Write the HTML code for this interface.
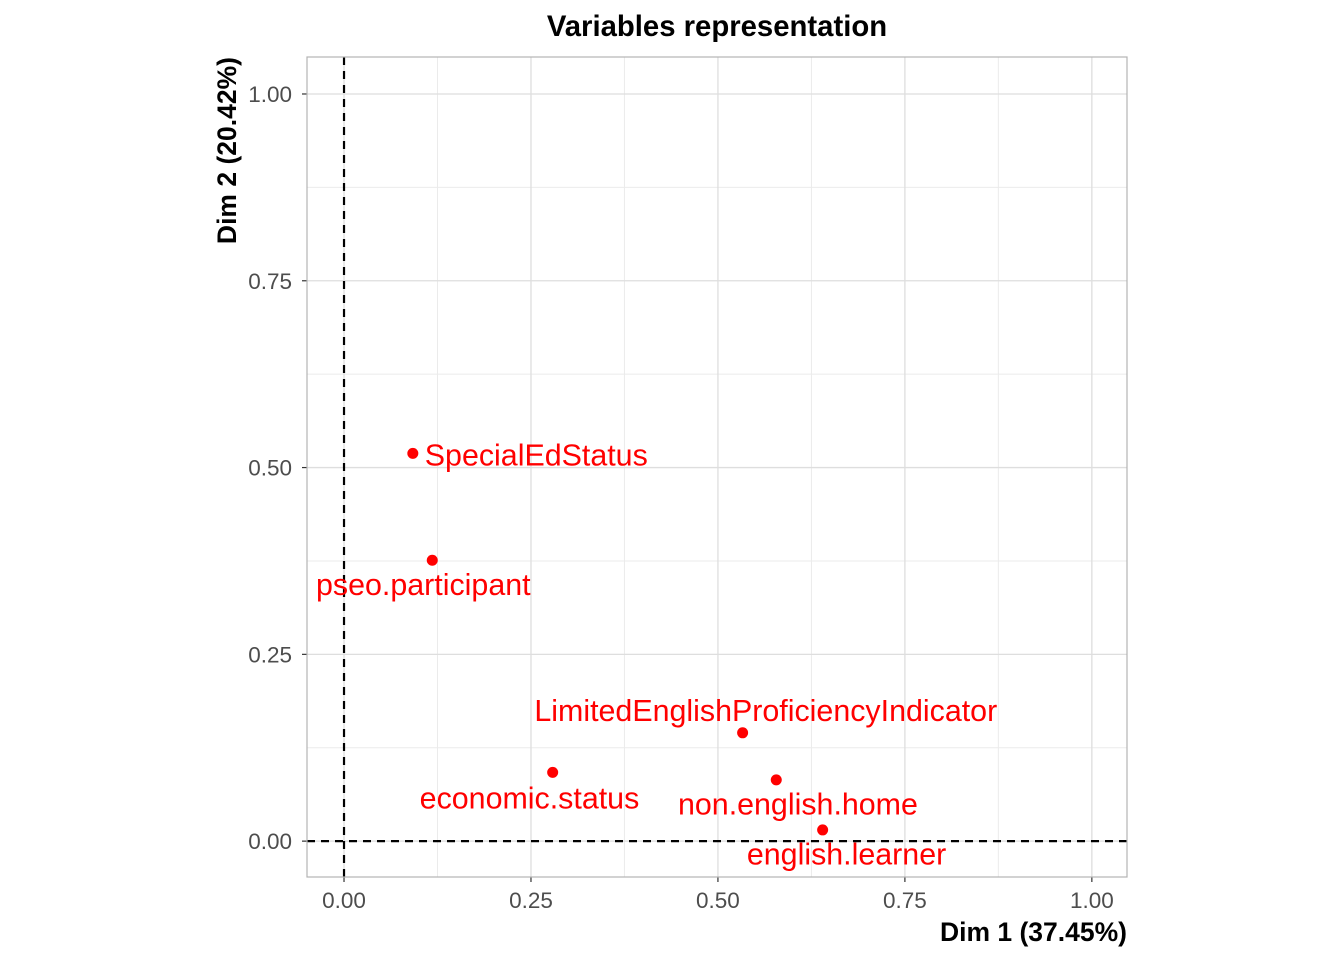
<!DOCTYPE html>
<html><head><meta charset="utf-8"><style>
html,body{margin:0;padding:0;background:#fff;}
svg{display:block;font-family:"Liberation Sans",Arial,sans-serif;}
</style></head><body>
<svg id="chart" width="1344" height="960">
<text x="717" y="36" text-anchor="middle" font-size="29.3" font-weight="bold">Variables representation</text>
<g id="grid"></g>
<g id="axes"></g>
<g id="marks"></g>
<rect x="307" y="57" width="820" height="820" fill="none" stroke="#b3b3b3" stroke-width="1.2"/>
<text x="1127" y="941" text-anchor="end" font-size="26.5" font-weight="bold">Dim 1 (37.45%)</text>
<text transform="translate(236,57) rotate(-90)" text-anchor="end" font-size="26.5" font-weight="bold">Dim 2 (20.42%)</text>
</svg>
<script>
const varNames = ["SpecialEdStatus","pseo.participant","economic.status","LimitedEnglishProficiencyIndicator","non.english.home","english.learner"];
const dim1 = [0.092,0.118,0.279,0.533,0.578,0.640];
const dim2 = [0.519,0.376,0.092,0.145,0.082,0.015];
const labelDx = [0.016,-0.012,-0.031,0.031,0.029,0.032];
const labelDy = [-0.003,-0.033,-0.035,0.029,-0.033,-0.033];
const labelAnchor = ["start","middle","middle","middle","middle","middle"];
const tickVals = [0,0.25,0.5,0.75,1];
const tickLabels = ["0.00","0.25","0.50","0.75","1.00"];
const minorVals = [0.125,0.375,0.625,0.875];

const X0=307,X1=1127,Y0=877,Y1=57,XMIN=-0.0495,XMAX=1.047,YMIN=-0.048,YMAX=1.0495;
const sx=v=>X0+(v-XMIN)/(XMAX-XMIN)*(X1-X0);
const sy=v=>Y0-(v-YMIN)/(YMAX-YMIN)*(Y0-Y1);
const NS="http://www.w3.org/2000/svg";
function mk(tag,attrs,parent){const e=document.createElementNS(NS,tag);for(const k in attrs)e.setAttribute(k,attrs[k]);parent.appendChild(e);return e;}
const grid=document.getElementById('grid'),axes=document.getElementById('axes'),marks=document.getElementById('marks');
minorVals.forEach(v=>{
  let l=mk('line',{x1:sx(v),x2:sx(v),y1:Y1,y2:Y0,stroke:'#ebebeb','stroke-width':1},grid);
  
  
  l=mk('line',{x1:X0,x2:X1,y1:sy(v),y2:sy(v),stroke:'#ebebeb','stroke-width':1},grid);
  
  
});
tickVals.forEach((v,i)=>{
  let l=mk('line',{x1:sx(v),x2:sx(v),y1:Y1,y2:Y0,stroke:'#dedede','stroke-width':1.3},grid);
  
  
  l=mk('line',{x1:X0,x2:X1,y1:sy(v),y2:sy(v),stroke:'#dedede','stroke-width':1.3},grid);
  
  
  let t=mk('line',{x1:sx(v),x2:sx(v),y1:Y0,y2:Y0+5,stroke:'#333','stroke-width':1.2},axes);
  
  
  t=mk('line',{x1:X0-5,x2:X0,y1:sy(v),y2:sy(v),stroke:'#333','stroke-width':1.2},axes);
  
  
  let tx=mk('text',{x:sx(v),y:Y0+31,'text-anchor':'middle','font-size':22.5,fill:'#4d4d4d'},axes);
  tx.textContent=tickLabels[i];
  
  
  tx=mk('text',{x:X0-15,y:sy(v)+8,'text-anchor':'end','font-size':22.5,fill:'#4d4d4d'},axes);
  tx.textContent=tickLabels[i];
  
  
});
let h=mk('line',{x1:X0,x2:X1,y1:sy(0),y2:sy(0),stroke:'#000','stroke-width':2.2,'stroke-dasharray':'8,6'},marks);


let vz=mk('line',{x1:sx(0),x2:sx(0),y1:Y1,y2:Y0,stroke:'#000','stroke-width':2.2,'stroke-dasharray':'8,6'},marks);


varNames.forEach((n,i)=>{
  const c=mk('circle',{cx:sx(dim1[i]),cy:sy(dim2[i]),r:5.5,fill:'#ff0000'},marks);
  
  
  const t=mk('text',{x:sx(dim1[i]+labelDx[i]),y:sy(dim2[i]+labelDy[i])+10,'text-anchor':labelAnchor[i],'font-size':30.4,fill:'#ff0000'},marks);
  t.textContent=n;
  
  
});
</script>
</body></html>
